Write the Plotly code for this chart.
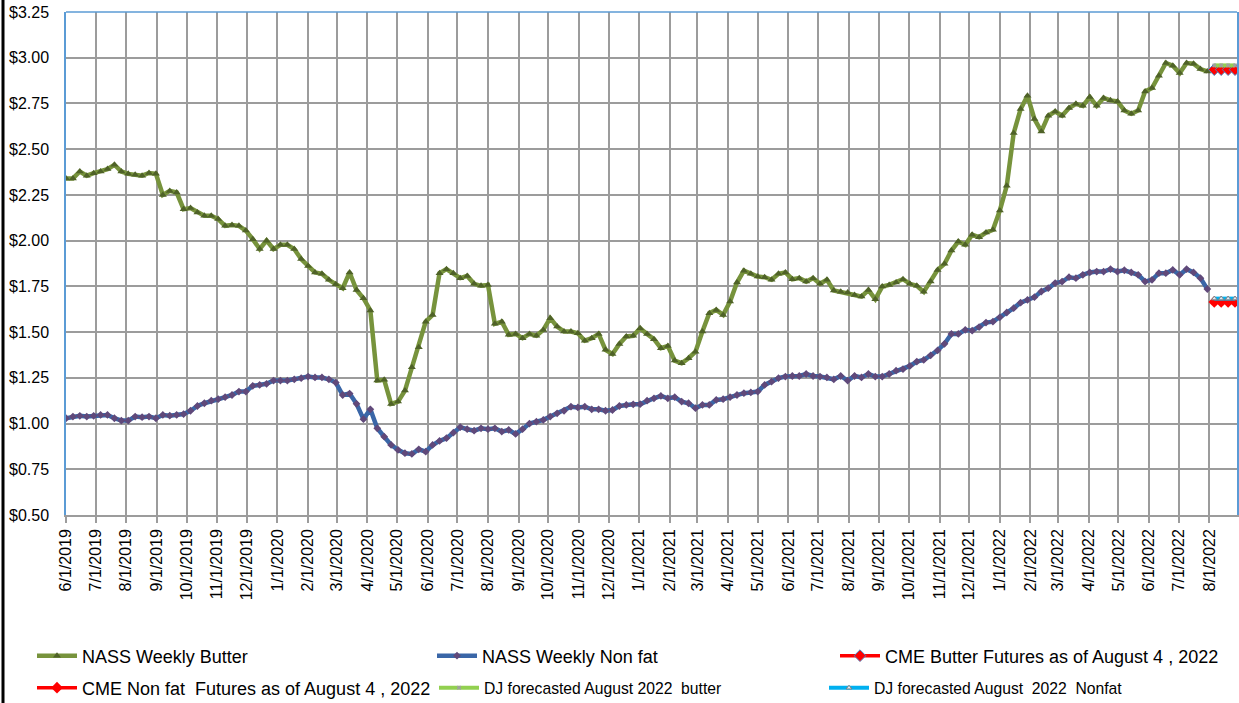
import pandas as pd
import plotly.graph_objects as go

# Weekly dates (NASS weekly survey) starting 6/1/2019
week_start = "2019-06-01"
n_weeks = 166

butter = [
    2.34, 2.34, 2.378, 2.355, 2.369, 2.378, 2.391, 2.415, 2.378, 2.365,
    2.36, 2.355, 2.37, 2.365, 2.25, 2.272, 2.263, 2.172, 2.178, 2.154,
    2.136, 2.136, 2.118, 2.081, 2.086, 2.081, 2.055, 2.008, 1.954, 2.0,
    1.954, 1.977, 1.977, 1.954, 1.899, 1.862, 1.826, 1.819, 1.786, 1.762,
    1.74, 1.826, 1.73, 1.685, 1.618, 1.235, 1.239, 1.107, 1.12, 1.18,
    1.308, 1.417, 1.557, 1.594, 1.822, 1.844, 1.822, 1.795, 1.807, 1.764,
    1.753, 1.758, 1.545, 1.557, 1.485, 1.49, 1.467, 1.49, 1.48, 1.512,
    1.576, 1.53, 1.503, 1.503, 1.494, 1.453, 1.467, 1.49, 1.403, 1.38,
    1.435, 1.476, 1.48, 1.521, 1.49, 1.461, 1.412, 1.424, 1.344, 1.33,
    1.357, 1.393, 1.503, 1.603, 1.621, 1.594, 1.667, 1.771, 1.836, 1.819,
    1.804, 1.80, 1.786, 1.819, 1.826, 1.789, 1.795, 1.776, 1.795, 1.764,
    1.786, 1.727, 1.72, 1.716, 1.703, 1.694, 1.73, 1.68, 1.749, 1.758,
    1.771, 1.789, 1.764, 1.753, 1.72, 1.776, 1.84, 1.873, 1.946, 1.995,
    1.977, 2.032, 2.019, 2.044, 2.059, 2.165, 2.30, 2.588, 2.719, 2.792,
    2.665, 2.597, 2.683, 2.706, 2.683, 2.725, 2.748, 2.737, 2.785, 2.737,
    2.78, 2.767, 2.761, 2.712, 2.694, 2.712, 2.816, 2.834, 2.902, 2.971,
    2.956, 2.916, 2.971, 2.967, 2.938, 2.925,
]

nonfat = [
    1.029, 1.038, 1.042, 1.038, 1.042, 1.047, 1.047, 1.029, 1.016, 1.016,
    1.038, 1.035, 1.038, 1.029, 1.047, 1.043, 1.047, 1.052, 1.07, 1.096,
    1.111, 1.125, 1.133, 1.144, 1.156, 1.175, 1.175, 1.206, 1.211, 1.217,
    1.235, 1.235, 1.235, 1.242, 1.248, 1.257, 1.252, 1.252, 1.242, 1.224,
    1.156, 1.164, 1.108, 1.024, 1.078, 0.974, 0.928, 0.883, 0.856, 0.838,
    0.834, 0.859, 0.846, 0.883, 0.905, 0.92, 0.95, 0.98, 0.969, 0.961,
    0.974, 0.969, 0.974, 0.956, 0.965, 0.943, 0.969, 1.0, 1.01, 1.02,
    1.038, 1.056, 1.07, 1.092, 1.088, 1.092, 1.078, 1.078, 1.07, 1.074,
    1.096, 1.102, 1.105, 1.106, 1.125, 1.138, 1.151, 1.138, 1.144, 1.12,
    1.111, 1.084, 1.102, 1.102, 1.129, 1.133, 1.144, 1.156, 1.166, 1.17,
    1.175, 1.211, 1.229, 1.248, 1.257, 1.26, 1.26, 1.271, 1.26, 1.257,
    1.252, 1.242, 1.26, 1.235, 1.26, 1.252, 1.271, 1.257, 1.257, 1.271,
    1.289, 1.297, 1.315, 1.339, 1.348, 1.373, 1.40, 1.436, 1.49, 1.49,
    1.512, 1.508, 1.527, 1.552, 1.557, 1.581, 1.607, 1.631, 1.661, 1.676,
    1.691, 1.722, 1.74, 1.768, 1.776, 1.80, 1.795, 1.813, 1.826, 1.831,
    1.831, 1.844, 1.831, 1.838, 1.826, 1.813, 1.776, 1.786, 1.822, 1.822,
    1.84, 1.813, 1.844, 1.826, 1.795, 1.735,
]

forecast_dates = ["2022-08-06", "2022-08-13", "2022-08-20", "2022-08-27"]
cme_butter = [2.935, 2.935, 2.935, 2.935]
cme_nonfat = [1.665, 1.665, 1.665, 1.665]
dj_butter = [2.958, 2.958, 2.958, 2.958]
dj_nonfat = [1.683, 1.683, 1.683, 1.683]

names = [
    "NASS Weekly Butter",
    "NASS Weekly Non fat",
    "CME Butter Futures as of August 4 , 2022",
    "CME Non fat  Futures as of August 4 , 2022",
    "DJ forecasted August 2022  butter",
    "DJ forecasted August  2022  Nonfat",
]

weeks = pd.date_range(week_start, periods=n_weeks, freq="7D")

FONT = "Liberation Sans Narrow, Arial Narrow, Liberation Sans, Arial, sans-serif"
TICKFONT = "Liberation Sans, Arial, sans-serif"
GRID = "#9C9C9C"
BLUE_EDGE = "#5B9BD5"

fig = go.Figure()

fig.add_trace(go.Scatter(
    x=weeks, y=butter, name=names[0], mode="lines+markers",
    line=dict(color="#77933C", width=4.5),
    marker=dict(symbol="triangle-up", size=7, color="#4F6228"),
    legend="legend",
))
fig.add_trace(go.Scatter(
    x=weeks, y=nonfat, name=names[1], mode="lines+markers",
    line=dict(color="#3A66A7", width=4.5),
    marker=dict(symbol="diamond", size=6, color="#60497A"),
    legend="legend2",
))
fig.add_trace(go.Scatter(
    x=forecast_dates, y=cme_butter, name=names[2], mode="lines+markers",
    line=dict(color="#FF0000", width=3.5),
    marker=dict(symbol="diamond", size=9, color="#FF0000",
                line=dict(color="#4F81BD", width=1)),
    legend="legend3",
))
fig.add_trace(go.Scatter(
    x=forecast_dates, y=cme_nonfat, name=names[3], mode="lines+markers",
    line=dict(color="#FF0000", width=3.5),
    marker=dict(symbol="diamond", size=9, color="#FF0000"),
    legend="legend4",
))
fig.add_trace(go.Scatter(
    x=forecast_dates, y=dj_butter, name=names[4], mode="lines+markers",
    line=dict(color="#92D050", width=4),
    marker=dict(symbol="x", size=4, color="#A0A0A0"),
    legend="legend5",
))
fig.add_trace(go.Scatter(
    x=forecast_dates, y=dj_nonfat, name=names[5], mode="lines+markers",
    line=dict(color="#00B0F0", width=4),
    marker=dict(symbol="triangle-up", size=5, color="#DDEBF7",
                line=dict(color="#7F7F7F", width=1)),
    legend="legend6",
))

L, R, T, B = 66, 2, 12, 188
W, H = 1239, 703
pw = W - L - R
ph = H - T - B


def px_x(p):
    return (p - L) / pw


def px_y(p):
    return (H - B - p) / ph


def leg(xpix, ypix, size):
    return dict(
        x=px_x(xpix), y=px_y(ypix), xanchor="left", yanchor="middle",
        orientation="h", bgcolor="rgba(0,0,0,0)", borderwidth=0,
        font=dict(family=FONT, size=size, color="#000000"),
        itemwidth=40,
    )


fig.update_layout(
    width=W, height=H,
    margin=dict(l=L, r=R, t=T, b=B, autoexpand=False),
    paper_bgcolor="white", plot_bgcolor="white",
    font=dict(family=FONT, color="#000000"),
    showlegend=True,
    legend=leg(32, 656, 18),
    legend2=leg(432, 656, 18),
    legend3=leg(835, 656, 18),
    legend4=leg(32, 688, 18),
    legend5=leg(434, 688, 15.7),
    legend6=leg(824, 688, 15.7),
    xaxis=dict(
        type="date",
        range=["2019-06-01", "2022-08-29"],
        tick0="2019-06-01", dtick="M1",
        tickformat="%-m/%-d/%Y", tickangle=-90,
        showgrid=True, gridcolor=GRID, gridwidth=1.5,
        ticks="outside", ticklen=6, tickcolor=GRID, tickwidth=1.5,
        showline=True, linecolor=GRID, linewidth=1.5,
        tickfont=dict(family=TICKFONT, size=16, color="#000000"),
        zeroline=False,
    ),
    yaxis=dict(
        range=[0.5, 3.25], dtick=0.25, tick0=0.5,
        tickformat="$.2f",
        showgrid=True, gridcolor=GRID, gridwidth=1.5,
        showline=True, linecolor=BLUE_EDGE, linewidth=1.5, mirror=True,
        ticks="", ticklabelstandoff=12,
        tickfont=dict(family=TICKFONT, size=16, color="#000000"),
        zeroline=False,
    ),
    shapes=[
        dict(type="line", xref="paper", yref="paper", x0=0, x1=1, y0=1, y1=1,
             line=dict(color=BLUE_EDGE, width=1.5)),
        dict(type="line", xref="paper", yref="paper",
             x0=px_x(3), x1=px_x(3), y0=px_y(0), y1=px_y(H),
             line=dict(color="#000000", width=3)),
    ],
)

fig.write_html(
    "out.html",
    config={"displayModeBar": False},
    post_script="document.body.style.margin='0';document.body.style.overflow='hidden';",
)
